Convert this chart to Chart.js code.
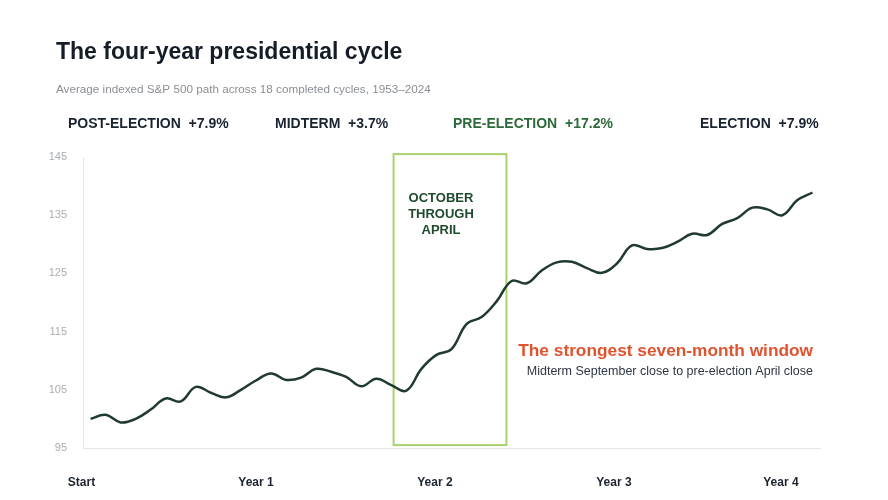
<!DOCTYPE html>
<html>
<head>
<meta charset="utf-8">
<title>The four-year presidential cycle</title>
<script src="https://cdn.jsdelivr.net/npm/chart.js@4/dist/chart.umd.min.js"></script>
<style>
  html, body { margin: 0; padding: 0; background: #fff; }
  #wrap { width: 888px; height: 500px; position: relative; }
</style>
</head>
<body>
<div id="wrap"><canvas id="cycle"></canvas></div>
<script>
// months since the start of the cycle
const months = [0, 1, 2, 3, 4, 5, 6, 7, 8, 9, 10, 11, 12, 13, 14, 15, 16, 17, 18, 19, 20, 21, 22, 23, 24,
  25, 26, 27, 28, 29, 30, 31, 32, 33, 34, 35, 36, 37, 38, 39, 40, 41, 42, 43, 44, 45, 46, 47, 48];

// average indexed S&P 500 path (start = 100)
const indexValues = [100.0, 100.7, 99.4, 100.0, 101.6, 103.5, 103.0, 105.5, 104.5, 103.7, 105.0, 106.6,
  107.8, 106.7, 107.1, 108.6, 108.1, 107.2, 105.6, 106.9, 105.8, 104.85, 108.6, 111.0,
  112.0, 116.3, 117.5, 120.2, 123.7, 123.3, 125.5, 126.9, 127.0, 125.9, 125.1, 126.7,
  129.8, 129.2, 129.35, 130.4, 131.8, 131.6, 133.5, 134.5, 136.3, 136.0, 135.0, 137.6, 138.9];

const yTicks = [95, 105, 115, 125, 135, 145];
const xTickLabels = ['Start', 'Year 1', 'Year 2', 'Year 3', 'Year 4'];
const xTickMonths = [-0.6, 11.0, 22.9, 34.8, 45.9];

const phaseLabels = ['POST-ELECTION', 'MIDTERM', 'PRE-ELECTION', 'ELECTION'];
const phaseReturns = ['+7.9%', '+3.7%', '+17.2%', '+7.9%'];

// October (midterm) through April (pre-election) window, in months / index units
const windowMonths = [20.15, 27.65];
const windowRange = [95.5, 145.5];

const FONT = '"Liberation Sans", Arial, Helvetica, sans-serif';
Chart.defaults.font.family = FONT;

const windowBox = {
  id: 'windowBox',
  beforeDatasetsDraw(chart) {
    const { ctx, scales: { x, y } } = chart;
    const x0 = x.getPixelForValue(windowMonths[0]);
    const x1 = x.getPixelForValue(windowMonths[1]);
    const y0 = y.getPixelForValue(windowRange[1]);
    const y1 = y.getPixelForValue(windowRange[0]);
    ctx.save();
    ctx.strokeStyle = '#a9d26f';
    ctx.lineWidth = 2;
    ctx.strokeRect(x0, y0, x1 - x0, y1 - y0);

    ctx.fillStyle = '#1f4a2e';
    ctx.font = 'bold 13px ' + FONT;
    ctx.textAlign = 'center';
    ctx.textBaseline = 'middle';
    ['OCTOBER', 'THROUGH', 'APRIL'].forEach((t, i) => ctx.fillText(t, 441, 198 + i * 16));
    ctx.restore();
  }
};

const headerText = {
  id: 'headerText',
  afterDraw(chart) {
    const { ctx } = chart;
    ctx.save();
    ctx.textBaseline = 'alphabetic';
    ctx.textAlign = 'left';
    ctx.fillStyle = '#141c27';
    ctx.font = 'bold 23px ' + FONT;
    ctx.fillText('The four-year presidential cycle', 56, 59);

    ctx.textBaseline = 'middle';
    ctx.fillStyle = '#8a8f95';
    ctx.font = '11.7px ' + FONT;
    ctx.fillText('Average indexed S&P 500 path across 18 completed cycles, 1953\u20132024', 56, 90);

    const phaseX = [68, 275, 453, 700];
    ctx.font = 'bold 14px ' + FONT;
    phaseLabels.forEach((lab, i) => {
      ctx.fillStyle = i === 2 ? '#2d6a3a' : '#1a2330';
      ctx.fillText(lab + '  ' + phaseReturns[i], phaseX[i], 124);
    });

    ctx.textAlign = 'right';
    ctx.fillStyle = '#e0532f';
    ctx.font = 'bold 17.3px ' + FONT;
    ctx.fillText('The strongest seven-month window', 813, 351);
    ctx.fillStyle = '#2e3643';
    ctx.font = '12.5px ' + FONT;
    ctx.fillText('Midterm September close to pre-election April close', 813, 372);
    ctx.restore();
  }
};

new Chart(document.getElementById('cycle'), {
  type: 'line',
  data: {
    labels: months,
    datasets: [{
      data: months.map((m, i) => ({ x: m, y: indexValues[i] })),
      borderColor: '#213a2e',
      borderWidth: 2.5,
      pointRadius: 0,
      tension: 0.4,
      fill: false
    }]
  },
  options: {
    responsive: true,
    maintainAspectRatio: false,
    animation: false,
    layout: { padding: { top: 157, right: 68, left: 0, bottom: 0 } },
    plugins: { legend: { display: false }, tooltip: { enabled: false } },
    scales: {
      x: {
        type: 'linear',
        min: -0.5,
        max: 48.5,
        grid: { display: false },
        border: { display: true, color: '#e6e6e6', width: 1 },
        afterFit(scale) { scale.height = 52; },
        afterBuildTicks(scale) { scale.ticks = xTickMonths.map(v => ({ value: v })); },
        ticks: {
          autoSkip: false,
          maxRotation: 0,
          padding: 19,
          color: '#1b2430',
          font: { size: 12, weight: 'bold' },
          callback: (v, i) => xTickLabels[i]
        }
      },
      y: {
        min: 95,
        max: 145,
        grid: { display: false },
        border: { display: true, color: '#e6e6e6', width: 1 },
        afterFit(scale) { scale.width = 83; },
        afterBuildTicks(scale) { scale.ticks = yTicks.map(v => ({ value: v })); },
        ticks: { padding: 8, color: '#a9adb1', font: { size: 11 } }
      }
    }
  },
  plugins: [windowBox, headerText]
});
</script>
</body>
</html>
